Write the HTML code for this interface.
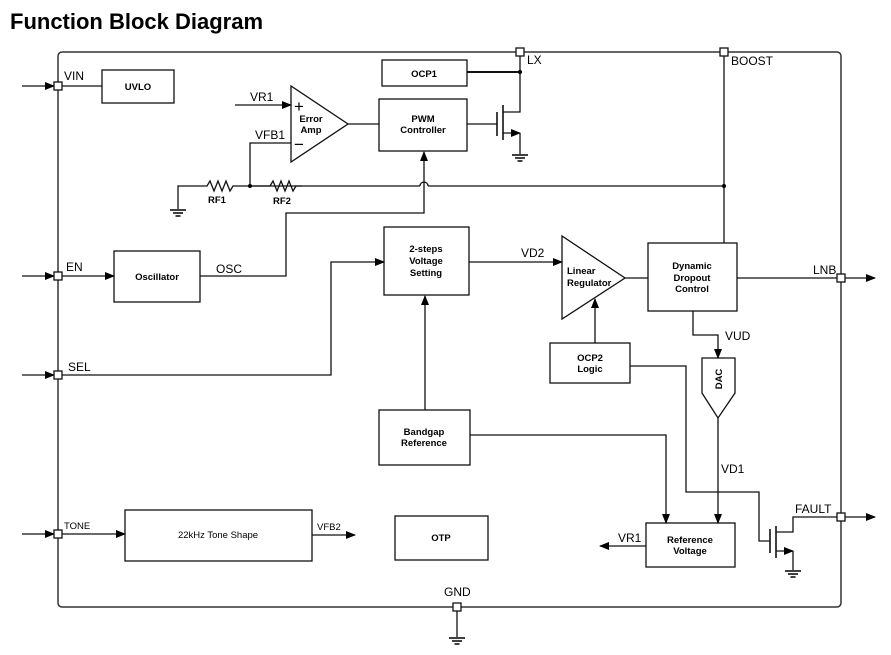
<!DOCTYPE html>
<html><head><meta charset="utf-8"><style>
html,body{margin:0;padding:0;background:#fff;}
svg{display:block;font-family:"Liberation Sans",Arial,sans-serif;}
.b{font-weight:bold;font-size:9.5px;}
.l{font-size:12px;}
</style></head><body>
<svg width="891" height="655" viewBox="0 0 891 655" xmlns="http://www.w3.org/2000/svg">
<defs>
<marker id="a" markerWidth="10" markerHeight="8" refX="9" refY="4" orient="auto" markerUnits="userSpaceOnUse">
<path d="M0,0 L10,4 L0,8 Z" fill="#000"/></marker>
<g id="gnd"><line x1="-8" y1="0" x2="8" y2="0" stroke="#000" stroke-width="1.5"/><line x1="-5" y1="3" x2="5" y2="3" stroke="#000" stroke-width="1.5"/><line x1="-2.5" y1="6" x2="2.5" y2="6" stroke="#000" stroke-width="1.5"/></g>
</defs>
<text x="10" y="29" font-size="22" font-weight="bold">Function Block Diagram</text>
<g fill="none" stroke="#333" stroke-width="1.5">
<rect x="58" y="52" width="783" height="555" rx="4"/>
</g>
<g fill="none" stroke="#111" stroke-width="1.3">
<rect x="102" y="70" width="72" height="33"/>
<rect x="382" y="60" width="85" height="26"/>
<rect x="379" y="99" width="88" height="52"/>
<polygon points="291,86 291,162 348,124"/>
<rect x="114" y="251" width="86" height="51"/>
<rect x="384" y="227" width="85" height="68"/>
<polygon points="562,236 562,319 625,278"/>
<rect x="648" y="243" width="89" height="68"/>
<rect x="550" y="343" width="80" height="40"/>
<polygon points="702,358 735,358 735,393 718,418 702,393"/>
<rect x="379" y="410" width="91" height="55"/>
<rect x="646" y="523" width="89" height="44"/>
<rect x="125" y="510" width="187" height="51"/>
<rect x="395" y="516" width="93" height="44"/>
<line x1="22" y1="86" x2="54" y2="86" marker-end="url(#a)"/>
<line x1="62" y1="86" x2="102" y2="86"/>
<line x1="22" y1="276" x2="54" y2="276" marker-end="url(#a)"/>
<line x1="62" y1="276" x2="114" y2="276" marker-end="url(#a)"/>
<line x1="22" y1="375" x2="54" y2="375" marker-end="url(#a)"/>
<line x1="22" y1="534" x2="54" y2="534" marker-end="url(#a)"/>
<line x1="62" y1="534" x2="125" y2="534" marker-end="url(#a)"/>
<line x1="312" y1="535" x2="355" y2="535" marker-end="url(#a)"/>
<polyline points="200,276 286,276 286,213 424,213 424,152" marker-end="url(#a)"/>
<polyline points="178,209 178,186 207,186 210,181 214,191 218,181 222,191 226,181 230,191 233,186 302,186"/>
<line x1="250" y1="186" x2="270" y2="186"/>
<polyline points="270,186 273,181 277,191 281,181 285,191 289,181 293,191 296,186 420,186"/>
<path d="M420,186 A4,4 0 0 1 428,186"/>
<line x1="428" y1="186" x2="724" y2="186"/>
<line x1="724" y1="52" x2="724" y2="243"/>
<polyline points="250,186 250,143 291,143"/>
<line x1="235" y1="105" x2="291" y2="105" marker-end="url(#a)"/>
<line x1="348" y1="124" x2="379" y2="124"/>
<line x1="467" y1="124" x2="497" y2="124"/>
<line x1="467" y1="72" x2="520" y2="72" stroke-width="2"/>
<line x1="497" y1="112" x2="497" y2="136" stroke-width="1.6"/>
<line x1="503" y1="105" x2="503" y2="140" stroke-width="1.6"/>
<polyline points="503,112 520,112 520,52"/>
<line x1="503" y1="133" x2="520" y2="133" marker-end="url(#a)"/>
<line x1="520" y1="133" x2="520" y2="154"/>
<polyline points="62,375 331,375 331,262 384,262" marker-end="url(#a)"/>
<line x1="469" y1="262" x2="562" y2="262" marker-end="url(#a)"/>
<line x1="425" y1="410" x2="425" y2="296" marker-end="url(#a)"/>
<line x1="625" y1="278" x2="648" y2="278"/>
<line x1="737" y1="278" x2="875" y2="278" marker-end="url(#a)"/>
<line x1="595" y1="343" x2="595" y2="299" marker-end="url(#a)"/>
<polyline points="693,311 693,335 718,335 718,358" marker-end="url(#a)"/>
<line x1="718" y1="418" x2="718" y2="523" marker-end="url(#a)"/>
<polyline points="630,366 686,366 686,492 759,492 759,541 770,541"/>
<polyline points="470,435 666,435 666,523" marker-end="url(#a)"/>
<line x1="646" y1="546" x2="600" y2="546" marker-end="url(#a)"/>
<line x1="770" y1="529" x2="770" y2="553" stroke-width="1.6"/>
<line x1="776" y1="526" x2="776" y2="558" stroke-width="1.6"/>
<polyline points="776,532 793,532 793,517 875,517" marker-end="url(#a)"/>
<line x1="776" y1="551" x2="793" y2="551" marker-end="url(#a)"/>
<line x1="793" y1="551" x2="793" y2="570"/>
<line x1="457" y1="611" x2="457" y2="637"/>
</g>
<g fill="#000"><circle cx="520" cy="72" r="2"/><circle cx="250" cy="186" r="2"/><circle cx="724" cy="186" r="2"/></g>
<use href="#gnd" x="178" y="210"/><use href="#gnd" x="520" y="155"/><use href="#gnd" x="793" y="571"/><use href="#gnd" x="457" y="638"/>
<g fill="#fff" stroke="#111" stroke-width="1.3">
<rect x="54" y="82" width="8" height="8"/><rect x="54" y="272" width="8" height="8"/><rect x="54" y="371" width="8" height="8"/><rect x="54" y="530" width="8" height="8"/>
<rect x="516" y="48" width="8" height="8"/><rect x="720" y="48" width="8" height="8"/>
<rect x="837" y="274" width="8" height="8"/><rect x="837" y="513" width="8" height="8"/><rect x="453" y="603" width="8" height="8"/>
</g>
<g class="l">
<text x="64" y="80">VIN</text><text x="66" y="271">EN</text><text x="68" y="371">SEL</text>
<text x="64" y="529" font-size="9.5">TONE</text><text x="317" y="530" font-size="9.5">VFB2</text>
<text x="527" y="64">LX</text><text x="731" y="65">BOOST</text>
<text x="813" y="274">LNB</text><text x="795" y="513">FAULT</text><text x="444" y="596">GND</text>
<text x="250" y="101">VR1</text><text x="255" y="139">VFB1</text><text x="216" y="273">OSC</text>
<text x="521" y="257">VD2</text><text x="725" y="340">VUD</text><text x="721" y="473">VD1</text><text x="618" y="542">VR1</text>
<text x="294" y="112" font-size="17">+</text><text x="294" y="150" font-size="17">−</text>
</g>
<g class="b" text-anchor="middle">
<text x="138" y="90">UVLO</text><text x="424" y="77">OCP1</text>
<text x="423" y="122">PWM</text><text x="423" y="133">Controller</text>
<text x="311" y="122">Error</text><text x="311" y="133">Amp</text>
<text x="157" y="280">Oscillator</text>
<text x="426" y="252">2-steps</text><text x="426" y="264">Voltage</text><text x="426" y="276">Setting</text>
<text x="567" y="274" text-anchor="start">Linear</text>
<text x="567" y="286" text-anchor="start">Regulator</text>
<text x="692" y="269">Dynamic</text><text x="692" y="281">Dropout</text><text x="692" y="292">Control</text>
<text x="590" y="361">OCP2</text><text x="590" y="372">Logic</text>
<text x="424" y="435">Bandgap</text><text x="424" y="446">Reference</text>
<text x="690" y="543">Reference</text><text x="690" y="554">Voltage</text>
<text x="441" y="541">OTP</text>
<text x="0" y="0" transform="translate(722,379) rotate(-90)">DAC</text>
</g>
<text x="218" y="538" text-anchor="middle" font-size="9.5">22kHz Tone Shape</text>
<g class="b"><text x="208" y="203">RF1</text><text x="273" y="204">RF2</text></g>
</svg>
</body></html>
